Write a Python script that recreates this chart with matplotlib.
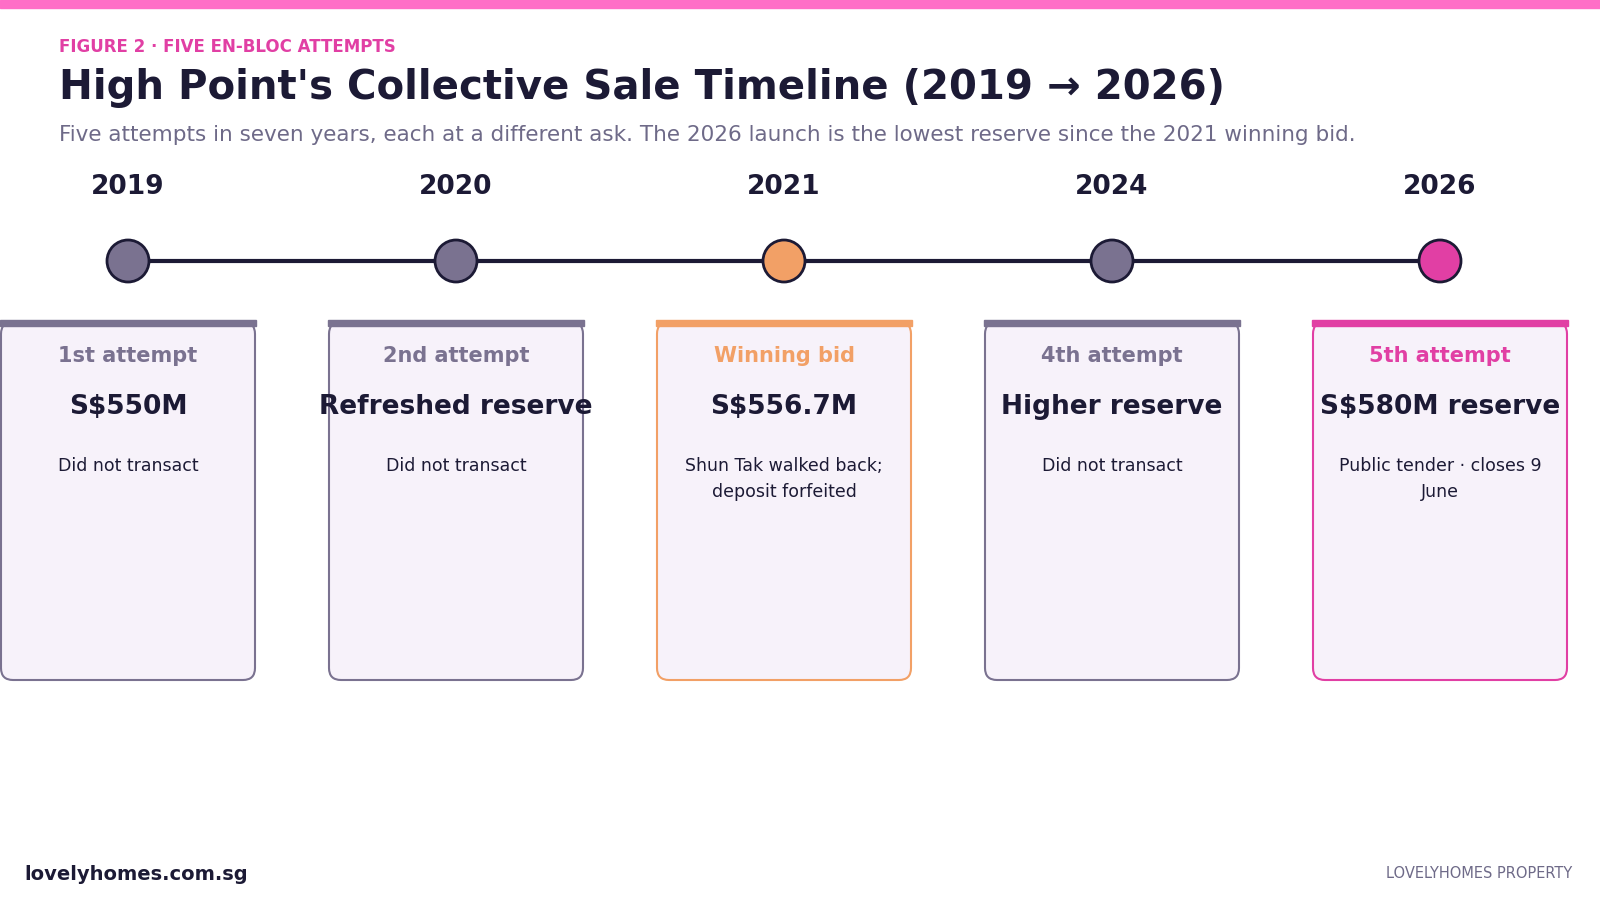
import matplotlib.pyplot as plt
from matplotlib.patches import FancyBboxPatch, Circle, Rectangle

years = ['2019', '2020', '2021', '2024', '2026']
labels = ['1st attempt', '2nd attempt', 'Winning bid', '4th attempt', '5th attempt']
values = ['S$550M', 'Refreshed reserve', 'S$556.7M', 'Higher reserve', 'S$580M reserve']
notes = ['Did not transact', 'Did not transact', 'Shun Tak walked back;\ndeposit forfeited',
         'Did not transact', 'Public tender · closes 9\nJune']
kinds = ['past', 'past', 'win', 'past', 'now']

DARK = '#1c1a35'
GRAY = '#7a7290'
ORANGE = '#f2a066'
PINK = '#e13fa4'
colors = {'past': GRAY, 'win': ORANGE, 'now': PINK}

fig = plt.figure(figsize=(16, 9), dpi=100)
ax = fig.add_axes([0, 0, 1, 1])
ax.set_xlim(0, 1600)
ax.set_ylim(900, 0)
ax.axis('off')

ax.add_patch(Rectangle((0, 0), 1600, 8, color='#ff6ec7'))
ax.text(59, 47, 'FIGURE 2 · FIVE EN-BLOC ATTEMPTS', color=PINK, fontsize=12, fontweight='bold', va='center')
ax.text(59, 88, "High Point's Collective Sale Timeline (2019 → 2026)", color=DARK, fontsize=29,
        fontweight='bold', va='center')
ax.text(59, 135, 'Five attempts in seven years, each at a different ask. The 2026 launch is the lowest reserve since the 2021 winning bid.',
        color='#6e6a88', fontsize=15.5, va='center')

xs = [128 + 328 * i for i in range(len(years))]
ax.plot([xs[0], xs[-1]], [261, 261], color=DARK, lw=3, zorder=1)

for x, yr, lab, val, note, k in zip(xs, years, labels, values, notes, kinds):
    c = colors[k]
    ax.text(x, 187, yr, color=DARK, fontsize=19, fontweight='bold', ha='center', va='center')
    ax.add_patch(Circle((x, 261), 21, facecolor=c, edgecolor=DARK, lw=2, zorder=2))
    ax.add_patch(FancyBboxPatch((x - 127, 322), 254, 358, boxstyle='round,pad=0,rounding_size=12',
                                facecolor='#f7f2fa', edgecolor=c, lw=1.5))
    ax.add_patch(Rectangle((x - 128, 320), 256, 6, color=c))
    ax.text(x, 356, lab, color=c, fontsize=15, fontweight='bold', ha='center', va='center')
    ax.text(x, 407, val, color=DARK, fontsize=19, fontweight='bold', ha='center', va='center')
    ax.text(x, 457, note, color=DARK, fontsize=12.5, ha='center', va='top', linespacing=1.6)

ax.text(24, 875, 'lovelyhomes.com.sg', color=DARK, fontsize=14, fontweight='bold', va='center')
ax.text(1572, 873, 'LOVELYHOMES PROPERTY', color='#6e6a88', fontsize=10.5, ha='right', va='center')

fig.savefig('out.png', dpi=100)
